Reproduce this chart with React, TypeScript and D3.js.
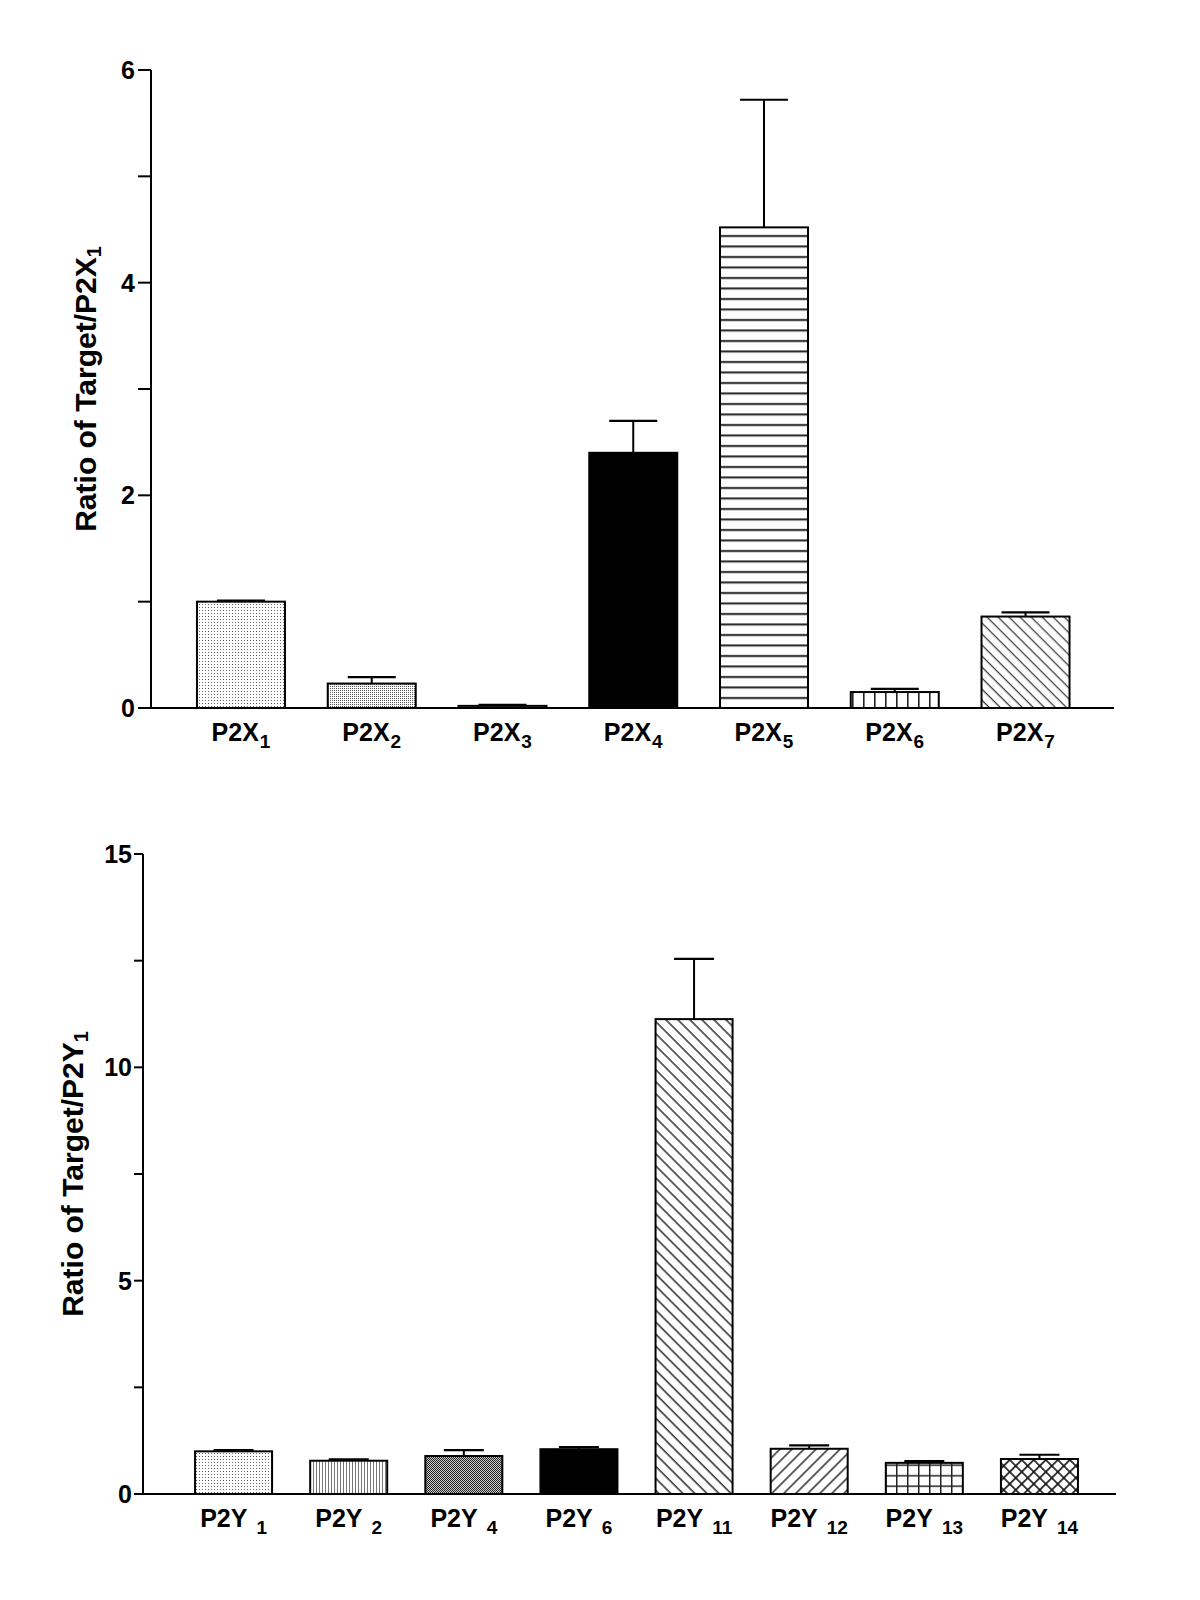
import React from "react";
import * as d3 from "d3";

// ---------- data ----------
const p2xSubs = ["1", "2", "3", "4", "5", "6", "7"];
const p2xValues = [1.0, 0.23, 0.02, 2.4, 4.52, 0.15, 0.86];
const p2xErrors = [0.01, 0.06, 0.01, 0.3, 1.2, 0.03, 0.04];
const p2xPatterns = ["dotsLight", "dotsDense", "dotsLight", "solid", "hlines", "vlines", "diagBackFine"];
const p2xMajorTicks = [0, 2, 4, 6];
const p2xMinorTicks = [1, 3, 5];

const p2ySubs = ["1", "2", "4", "6", "11", "12", "13", "14"];
const p2yValues = [1.0, 0.78, 0.89, 1.05, 11.13, 1.06, 0.73, 0.82];
const p2yErrors = [0.03, 0.03, 0.14, 0.05, 1.41, 0.08, 0.04, 0.1];
const p2yPatterns = ["dotsLight", "vfine", "checker", "solid", "diagBack", "diagFwd", "grid", "crosshatch"];
const p2yMajorTicks = [0, 5, 10, 15];
const p2yMinorTicks = [2.5, 7.5, 12.5];

const FONT = "'Liberation Sans', Arial, Helvetica, sans-serif";

function Patterns() {
  return (
    <defs>
      <pattern id="dotsLight" width={3} height={3} patternUnits="userSpaceOnUse">
        <rect width={3} height={3} fill="#fff" />
        <rect x={1} y={1} width={1} height={1} fill="#666" />
      </pattern>
      <pattern id="dotsDense" width={2} height={2} patternUnits="userSpaceOnUse">
        <rect width={2} height={2} fill="#fff" />
        <rect x={0} y={0} width={1} height={1} fill="#555" />
      </pattern>
      <pattern id="checker" width={2} height={2} patternUnits="userSpaceOnUse">
        <rect width={2} height={2} fill="#ccc" />
        <rect x={0} y={0} width={1} height={1} fill="#222" />
        <rect x={1} y={1} width={1} height={1} fill="#222" />
      </pattern>
      <pattern id="vfine" width={3} height={3} patternUnits="userSpaceOnUse">
        <rect width={3} height={3} fill="#fff" />
        <rect x={1} y={0} width={1} height={3} fill="#777" />
      </pattern>
      <pattern id="hlines" width={10} height={10.5} patternUnits="userSpaceOnUse" y={0}>
        <rect width={10} height={10.5} fill="#fff" />
        <rect x={0} y={4} width={10} height={2} fill="#222" />
      </pattern>
      <pattern id="vlines" width={11} height={10} patternUnits="userSpaceOnUse">
        <rect width={11} height={10} fill="#fff" />
        <rect x={5} y={0} width={1.6} height={10} fill="#222" />
      </pattern>
      <pattern id="diagBackFine" width={7.8} height={7.8} patternUnits="userSpaceOnUse" patternTransform="rotate(45)">
        <rect width={7.8} height={7.8} fill="#fff" />
        <rect x={0} y={3} width={7.8} height={1.2} fill="#333" />
      </pattern>
      <pattern id="diagBack" width={8.5} height={8.5} patternUnits="userSpaceOnUse" patternTransform="rotate(45)">
        <rect width={8.5} height={8.5} fill="#fff" />
        <rect x={0} y={3} width={8.5} height={1.4} fill="#222" />
      </pattern>
      <pattern id="diagFwd" width={8.5} height={8.5} patternUnits="userSpaceOnUse" patternTransform="rotate(-45)">
        <rect width={8.5} height={8.5} fill="#fff" />
        <rect x={0} y={3} width={8.5} height={1.4} fill="#222" />
      </pattern>
      <pattern id="grid" width={11} height={10.5} patternUnits="userSpaceOnUse">
        <rect width={11} height={10.5} fill="#fff" />
        <rect x={5} y={0} width={1.5} height={10.5} fill="#222" />
        <rect x={0} y={5} width={11} height={1.5} fill="#222" />
      </pattern>
      <pattern id="crosshatch" width={8.5} height={8.5} patternUnits="userSpaceOnUse" patternTransform="rotate(45)">
        <rect width={8.5} height={8.5} fill="#fff" />
        <rect x={0} y={3} width={8.5} height={1.6} fill="#111" />
        <rect x={3} y={0} width={1.6} height={8.5} fill="#111" />
      </pattern>
    </defs>
  );
}

type PanelProps = {
  prefix: string;
  subs: string[];
  values: number[];
  errors: number[];
  patterns: string[];
  majorTicks: number[];
  minorTicks: number[];
  yMax: number;
  yTop: number;
  yBase: number;
  axisX: number;
  axisEnd: number;
  bandStart: number;
  bandEnd: number;
  paddingInner: number;
  capW: number;
  titleX: number;
  subGap: number;
  tickLen: number;
  labelGap: number;
};

function Panel(p: PanelProps) {
  const y = d3.scaleLinear().domain([0, p.yMax]).range([p.yBase, p.yTop]);
  const x = d3
    .scaleBand<string>()
    .domain(p.subs)
    .range([p.bandStart, p.bandEnd])
    .paddingInner(p.paddingInner)
    .paddingOuter(p.paddingInner / 2);
  const bw = x.bandwidth();
  const yMid = (p.yTop + p.yBase) / 2;
  return (
    <g>
      {p.subs.map((s, i) => {
        const x0 = x(s)!;
        const top = y(p.values[i]);
        const errTop = y(p.values[i] + p.errors[i]);
        const cx = x0 + bw / 2;
        const fill = p.patterns[i] === "solid" ? "#000" : `url(#${p.patterns[i]})`;
        return (
          <g key={s}>
            <line x1={cx} x2={cx} y1={top} y2={errTop} stroke="#000" strokeWidth={2} />
            <line x1={cx - p.capW / 2} x2={cx + p.capW / 2} y1={errTop} y2={errTop} stroke="#000" strokeWidth={2.2} />
            <rect x={x0} y={top} width={bw} height={p.yBase - top} fill={fill} stroke="#000" strokeWidth={2} />
            <text
              x={cx}
              y={p.yBase + 33}
              textAnchor="middle"
              fontFamily={FONT}
              fontWeight="bold"
              fontSize={25}
              fill="#000"
            >
              {p.prefix}
              <tspan dx={p.subGap} dy={7} fontSize={19}>
                {s}
              </tspan>
            </text>
          </g>
        );
      })}
      {/* axes */}
      <line x1={p.axisX} x2={p.axisX} y1={p.yTop} y2={p.yBase} stroke="#000" strokeWidth={2} />
      <line x1={p.axisX - 1} x2={p.axisEnd} y1={p.yBase} y2={p.yBase} stroke="#000" strokeWidth={2} />
      {p.majorTicks.map((t) => (
        <g key={"M" + t}>
          <line x1={p.axisX - p.tickLen} x2={p.axisX} y1={y(t)} y2={y(t)} stroke="#000" strokeWidth={2} />
          <text
            x={p.axisX - p.labelGap}
            y={y(t) + 9}
            textAnchor="end"
            fontFamily={FONT}
            fontWeight="bold"
            fontSize={25}
            fill="#000"
          >
            {t}
          </text>
        </g>
      ))}
      {p.minorTicks.map((t) => (
        <line key={"m" + t} x1={p.axisX - p.tickLen} x2={p.axisX} y1={y(t)} y2={y(t)} stroke="#000" strokeWidth={2} />
      ))}
      <text
        transform={`translate(${p.titleX},${yMid}) rotate(-90)`}
        textAnchor="middle"
        fontFamily={FONT}
        fontWeight="bold"
        fontSize={30}
        fill="#000"
      >
        {"Ratio of Target/" + p.prefix}
        <tspan dy={5} fontSize={20}>1</tspan>
      </text>
    </g>
  );
}

export default function App() {
  return (
    <svg
      width={1200}
      height={1600}
      viewBox="0 0 1200 1600"
      style={{ position: "absolute", left: 0, top: 0, background: "#fff" }}
    >
      <rect width={1200} height={1600} fill="#fff" />
      <Patterns />
      <Panel
        prefix="P2X"
        subs={p2xSubs}
        values={p2xValues}
        errors={p2xErrors}
        patterns={p2xPatterns}
        majorTicks={p2xMajorTicks}
        minorTicks={p2xMinorTicks}
        yMax={6}
        yTop={70}
        yBase={708}
        axisX={151}
        axisEnd={1114}
        bandStart={175.6}
        bandEnd={1090.9}
        paddingInner={0.327}
        capW={48}
        titleX={96}
        subGap={1}
        tickLen={13}
        labelGap={16}
      />
      <Panel
        prefix="P2Y"
        subs={p2ySubs}
        values={p2yValues}
        errors={p2yErrors}
        patterns={p2yPatterns}
        majorTicks={p2yMajorTicks}
        minorTicks={p2yMinorTicks}
        yMax={15}
        yTop={854}
        yBase={1494}
        axisX={143}
        axisEnd={1116}
        bandStart={176}
        bandEnd={1097}
        paddingInner={0.331}
        capW={40}
        titleX={83}
        subGap={9}
        tickLen={9}
        labelGap={11}
      />
    </svg>
  );
}
